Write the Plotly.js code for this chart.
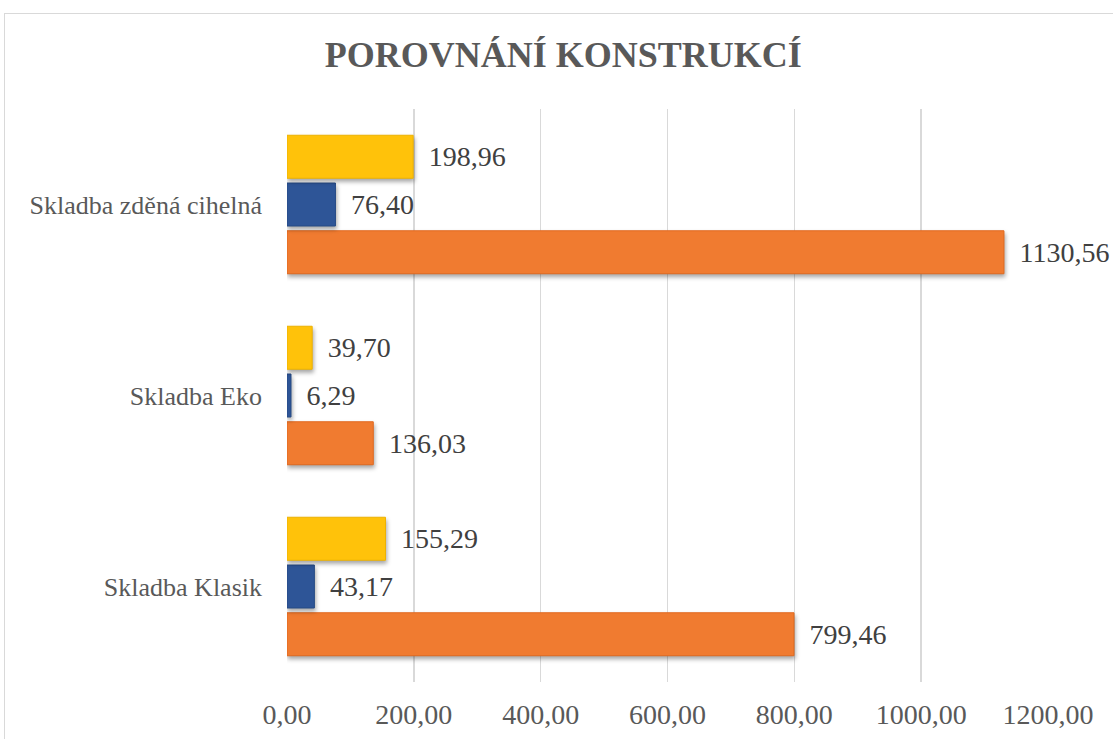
<!DOCTYPE html>
<html>
<head>
<meta charset="utf-8">
<script src="https://cdn.plot.ly/plotly-3.0.1.min.js"></script>
<style>
html,body{margin:0;padding:0;background:#fff;}
#frame{position:absolute;left:4px;top:13px;width:1120px;height:740px;border-left:1.5px solid #d9d9d9;border-top:1.5px solid #d9d9d9;box-sizing:border-box;pointer-events:none;z-index:5;}
#chart{width:1113px;height:739px;}
#chart .bars .point path{filter:drop-shadow(1px 3px 2px rgba(0,0,0,0.35));}
</style>
</head>
<body>
<div id="frame"></div>
<div id="chart"></div>
<script>
var categories = ["Skladba Klasik", "Skladba Eko", "Skladba zděná cihelná"];
var seriesOrange = [799.46, 136.03, 1130.56];
var seriesBlue = [43.17, 6.29, 76.40];
var seriesYellow = [155.29, 39.70, 198.96];
var xTicks = [0, 200, 400, 600, 800, 1000, 1200];
var titleText = "POROVNÁNÍ KONSTRUKCÍ";

var SERIF = "Liberation Serif";
var labelFont = {family: SERIF, size: 28, color: "#404040"};

function mk(vals, color, line) {
  return {
    type: "bar", orientation: "h",
    y: categories, x: vals,
    marker: {color: color, line: {color: line, width: 1}},
    texttemplate: "\u00a0\u2009%{x:.2f}",
    textposition: "outside",
    textfont: labelFont,
    cliponaxis: false,
    constraintext: "none",
    hoverinfo: "none",
    showlegend: false
  };
}

var data = [
  mk(seriesOrange, "#F07B30", "#E0691F"),
  mk(seriesBlue, "#2E5597", "#264a85"),
  mk(seriesYellow, "#FFC20A", "#EDB100")
];

var layout = {
  width: 1113, height: 739,
  paper_bgcolor: "#fff", plot_bgcolor: "#fff",
  separators: ", ",
  font: {family: SERIF},
  margin: {l: 287, r: 65, t: 109, b: 57},
  barmode: "group",
  bargap: 0.25,
  bargroupgap: 0.1,
  title: {
    text: "<b>" + titleText + "</b>",
    font: {family: SERIF, size: 36, color: "#595959"},
    x: 0.506, xanchor: "center", xref: "container",
    y: 0.926, yanchor: "middle", yref: "container"
  },
  xaxis: {
    range: [0, 1200],
    tickvals: xTicks,
    tickformat: ".2f",
    showgrid: true, gridcolor: "#d9d9d9", gridwidth: 1.5,
    zeroline: false, showline: false,
    ticks: "", ticklabelstandoff: 13,
    tickfont: {family: SERIF, size: 28, color: "#595959"},
    fixedrange: true
  },
  yaxis: {
    type: "category",
    showgrid: false, zeroline: false, showline: false,
    ticks: "", ticklabelstandoff: 24,
    tickfont: {family: SERIF, size: 26, color: "#595959"},
    fixedrange: true
  }
};

Plotly.newPlot("chart", data, layout, {displayModeBar: false, staticPlot: true});
</script>
</body>
</html>
